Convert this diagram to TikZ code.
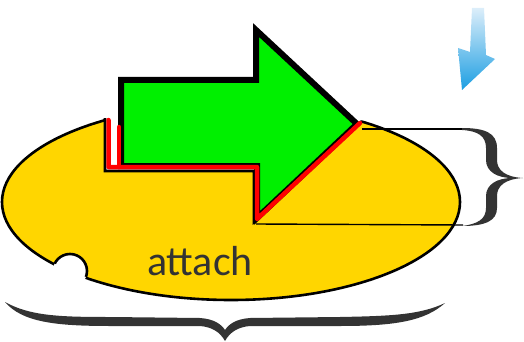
\documentclass[tikz,border=0pt]{standalone}
\usepackage{fontspec}
\newfontfamily\labelfont{Carlito}
\definecolor{gold}{RGB}{255,214,0}
\definecolor{leaf}{RGB}{0,240,0}
\definecolor{ink}{RGB}{51,51,51}
\definecolor{sky}{RGB}{28,158,226}
\definecolor{skylight}{RGB}{220,238,250}

\begin{document}
\begin{tikzpicture}[x=1pt,y=-1pt,
    rim/.style={draw=black,line width=2.6pt},
    redge/.style={draw=red,line width=4.5pt,line cap=round,line join=round},
    thin/.style={draw=black,line width=1.4pt},
    brace/.style={fill=ink}]
    \useasboundingbox (0,0) rectangle (524,342);

    % the disc, with a bite and the notch cut out of it
    \draw[rim,fill=gold] (231,202) ellipse [x radius=229pt,y radius=98pt];
    \fill[white] (70,271) circle (17pt);
    \begin{scope}
        \clip (231,202) ellipse [x radius=228pt,y radius=97pt];
        \draw[rim] (70,271) circle (17pt);
    \end{scope}
    \fill[white] (105,80) -- (105,171) -- (254,171) -- (254,222) -- (362,121) -- (362,80) -- cycle;
    \draw[rim] (105,118) -- (105,171) -- (254,171) -- (254,222) -- (362,121);

    \coordinate (topA) at (362,129);
    \coordinate (topB) at (463,129);
    \coordinate (lowA) at (256,224);
    \coordinate (lowB) at (463,225);
    \path[thin] (topA) edge (topB);
    \path[thin] (lowA) edge (lowB);

    % right brace
    \fill[brace] (462,128) .. controls (485,128) and (497,133) .. (497,148) -- (497,160)
        .. controls (497,170) and (505,177) .. (523,178)
        .. controls (505,179) and (497,186) .. (497,196) -- (497,208)
        .. controls (497,221) and (485,226) .. (462,226)
        .. controls (478,224) and (486,219) .. (486,208) -- (486,196)
        .. controls (486,184) and (498,178) .. (512,178)
        .. controls (498,178) and (486,172) .. (486,160) -- (486,148)
        .. controls (486,136) and (478,131) .. (462,130) -- cycle;

    % bottom brace
    \fill[brace] (5,302) .. controls (30,316) and (60,317) .. (110,317) -- (200,318)
        .. controls (214,319) and (221,324) .. (225,330)
        .. controls (229,324) and (236,319) .. (250,318) -- (340,317)
        .. controls (390,316) and (420,315) .. (445,303)
        .. controls (425,321) and (395,326) .. (340,326) -- (250,326)
        .. controls (238,327) and (230,332) .. (225,341)
        .. controls (220,332) and (212,327) .. (200,326) -- (110,326)
        .. controls (55,326) and (22,322) .. (5,302) -- cycle;

    % the big arrow
    \draw[line width=6pt,fill=leaf] (121,80) -- (256,80) -- (256,30) -- (357,124)
        -- (257,218) -- (257,166) -- (121,166) -- cycle;
    \draw[redge] (108.5,120) -- (108.5,167) -- (257,167) -- (257,219) -- (360,123);
    \draw[redge] (119,127) -- (119,167);

    % small blue arrow
    \shade[top color=skylight,bottom color=sky] (472,8) -- (484,8) -- (486,55)
        -- (495,59) -- (462,90) -- (458,48) -- (470,52) -- cycle;

    \node[text=ink,font=\labelfont\fontsize{42}{42}\selectfont,anchor=base] (label) at (200,275) {attach};
\end{tikzpicture}
\end{document}
